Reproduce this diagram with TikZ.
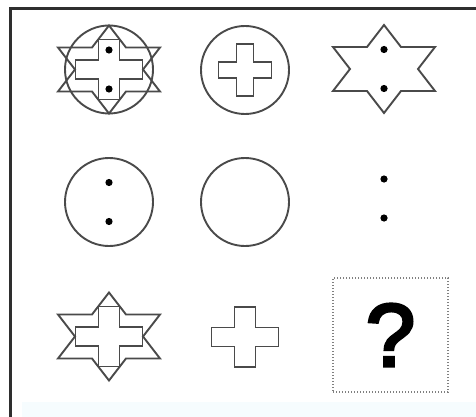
\documentclass[tikz,border=0pt]{standalone}
\usepackage{fontspec}
\setmainfont{Liberation Sans}
\newfontfamily\questfont[FakeBold=3.5]{Liberation Sans}
\definecolor{lineg}{HTML}{4A4A4A}
\definecolor{frameg}{HTML}{2E2E2E}
\definecolor{bandc}{HTML}{F6FCFE}
\tikzset{
  shape line/.style={draw=lineg, line width=1.9pt, line join=miter},
  dotmark/.style={fill=black},
  pics/hexstar/.style={code={
    \draw[shape line] (0,-44) -- (17,-22) -- (51,-22) -- (34,0) -- (51,22) -- (17,22)
      -- (0,44) -- (-17,22) -- (-51,22) -- (-34,0) -- (-51,-22) -- (-17,-22) -- cycle;}},
  pics/bigcross/.style={code={
    \draw[shape line] (-10.5,-30) -- (10.5,-30) -- (10.5,-9.5) -- (33.5,-9.5) -- (33.5,9.5)
      -- (10.5,9.5) -- (10.5,30) -- (-10.5,30) -- (-10.5,9.5) -- (-33.5,9.5)
      -- (-33.5,-9.5) -- (-10.5,-9.5) -- cycle;}},
  pics/smallcross/.style={code={
    \draw[shape line] (-8.5,-26) -- (8.5,-26) -- (8.5,-8) -- (26.5,-8) -- (26.5,8)
      -- (8.5,8) -- (8.5,26) -- (-8.5,26) -- (-8.5,8) -- (-26.5,8)
      -- (-26.5,-8) -- (-8.5,-8) -- cycle;}},
  pics/twodots/.style={code={
    \fill[dotmark] (0,-19.5) circle (3.6);
    \fill[dotmark] (0,19.5) circle (3.6);}}
}
\begin{document}
\begin{tikzpicture}[x=1pt, y=-1pt]
   \useasboundingbox (0,0) rectangle (476,417);
   \fill[bandc] (22,402) rectangle (476,417);

   % cell centres
   \coordinate (c11) at (109,69.5);
   \coordinate (c12) at (245,70);
   \coordinate (c13) at (384,69);
   \coordinate (c21) at (109,202);
   \coordinate (c22) at (245,202);
   \coordinate (c23) at (384,198.5);
   \coordinate (c31) at (109,336.5);
   \coordinate (c32) at (245,337);

   % row 1
   \draw[shape line] (c11) circle (44);
   \pic at (c11) {hexstar};
   \pic at (c11) {bigcross};
   \pic at (c11) {twodots};

   \draw[shape line] (c12) circle (44);
   \pic at (c12) {smallcross};

   \pic at (c13) {hexstar};
   \pic at (c13) {twodots};

   % row 2
   \draw[shape line] (c21) circle (44);
   \pic at (c21) {twodots};
   \draw[shape line] (c22) circle (44);
   \pic at (c23) {twodots};

   % row 3
   \pic at (c31) {hexstar};
   \pic at (c31) {bigcross};
   \pic at (c32) {bigcross};

   \node[draw=gray, line width=1.6pt, dash pattern=on 1.4pt off 1.6pt,
         minimum width=115pt, minimum height=114pt, inner sep=0pt,
         font=\fontsize{89}{89}\questfont] (quest) at (390.5,335) {?};

   % frame
   \coordinate (fl) at (10.5,8.5);
   \coordinate (fr) at (476,8.5);
   \coordinate (fb) at (10.5,417);
   \draw[frameg, line width=2.2pt] (fb) -- (fl) -- (fr);
\end{tikzpicture}
\end{document}
